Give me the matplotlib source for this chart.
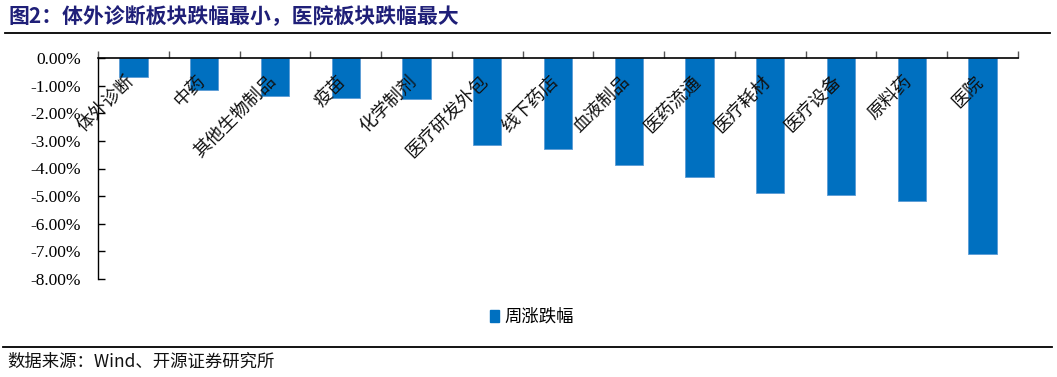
import matplotlib
matplotlib.use("Agg")
import matplotlib.pyplot as plt
from matplotlib.patches import Rectangle
from matplotlib.lines import Line2D

categories = ["体外诊断", "中药", "其他生物制品", "疫苗", "化学制剂", "医疗研发外包",
              "线下药店", "血液制品", "医药流通", "医疗耗材", "医疗设备", "原料药", "医院"]
values = [-0.67, -1.16, -1.37, -1.44, -1.49, -3.15, -3.28, -3.87, -4.30, -4.87, -4.95, -5.17, -7.08]
yticks = [0, -1, -2, -3, -4, -5, -6, -7, -8]
series_name = "周涨跌幅"
title = "图2：体外诊断板块跌幅最小，医院板块跌幅最大"
source = "数据来源：Wind、开源证券研究所"

CJK = ["Noto Sans CJK SC", "DejaVu Sans"]
SERIF = ["Liberation Serif", "DejaVu Serif"]
BAR = "#0070C0"

fig = plt.figure(figsize=(10.57, 3.77), dpi=100)
ax = fig.add_axes([98 / 1057, 1 - 279 / 377, (1018 - 98) / 1057, (279 - 58) / 377])

x = list(range(len(categories)))
ax.bar(x, values, width=0.4, color=BAR, edgecolor="#5b9bd5", linewidth=0.6, zorder=2,
       label=series_name)

ax.set_xlim(-0.5, len(categories) - 0.5)
ax.set_ylim(-8, 0)
ax.set_yticks(yticks)
ax.set_yticklabels([f"{v:.2f}%" if v == 0 else f"-{abs(v):.2f}%" for v in yticks],
                   fontfamily=SERIF, fontsize=12.5)
ax.tick_params(axis="y", direction="in", length=5, width=1, pad=12)

ax.xaxis.tick_top()
ax.set_xticks([i - 0.5 for i in range(len(categories) + 1)])
ax.set_xticklabels([])
ax.tick_params(axis="x", direction="out", length=5, width=1, color="#555555")

for s in ["right", "bottom"]:
    ax.spines[s].set_visible(False)
ax.spines["left"].set_linewidth(1)
ax.spines["top"].set_linewidth(1.2)

for i, lab in enumerate(categories):
    ax.text(i + 0.06, -0.52, lab, rotation=45, ha="right", va="top",
            fontfamily=CJK, fontsize=13, color="#111111", zorder=3)

handle = Rectangle((0, 0), 1, 1, color=BAR)
fig.legend([handle], [series_name], loc="center", bbox_to_anchor=(532 / 1057, 1 - 317 / 377),
           frameon=False, prop={"family": CJK, "size": 12.5}, handlelength=0.55, handleheight=0.75,
           handletextpad=0.3)

fig.text(8 / 1057, 1 - 17 / 377, title, fontfamily=CJK, fontsize=15, fontweight="bold",
         color="#1f1f78", ha="left", va="center")
fig.add_artist(Line2D([5 / 1057, 1050 / 1057], [1 - 33 / 377] * 2, color="black", linewidth=1.3))
fig.add_artist(Line2D([3 / 1057, 1052 / 1057], [1 - 347 / 377] * 2, color="black", linewidth=1.3))
fig.text(7 / 1057, 1 - 362 / 377, source, fontfamily=CJK, fontsize=12.5, color="#111111",
         ha="left", va="center")

fig.savefig("out.png", dpi=100)
